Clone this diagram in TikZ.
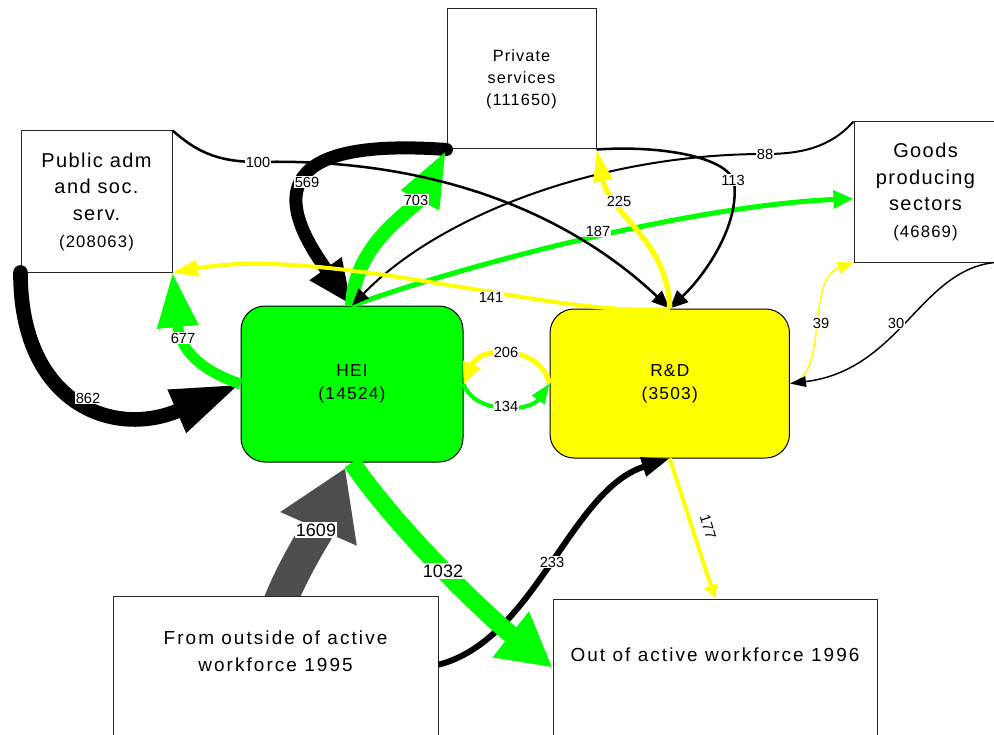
\documentclass[tikz,border=0pt]{standalone}
\usepackage{fontspec}
\setmainfont{Liberation Sans}
\newfontfamily\spfont[LetterSpace=7]{Liberation Sans}
\newfontfamily\wfont[LetterSpace=11]{Liberation Sans}
\usetikzlibrary{arrows.meta}
\definecolor{grn}{RGB}{0,255,0}
\definecolor{ylw}{RGB}{255,255,0}
\definecolor{dgray}{RGB}{77,77,77}
\pgfdeclarelayer{bg}
\pgfsetlayers{bg,main}
\tikzset{
  box/.style={draw=black!85, line width=0.75pt, fill=white, inner sep=0pt, align=center},
  rbox/.style={draw=black, line width=0.75pt, inner sep=0pt, align=center, rounded corners=18pt},
  ahead/.style 2 args={-{Triangle[length=#1,width=#2]}},
  lbl/.style={fill=white, inner sep=0.8pt, font=\fontsize{11}{12}\selectfont},
  blbl/.style={fill=white, inner sep=1pt, font=\fontsize{13.5}{15}\selectfont},
  bigtxt/.style={align=center, inner sep=0pt, font=\wfont\fontsize{14.2}{20}\selectfont},
}
\begin{document}
\begin{tikzpicture}[x=0.75pt,y=-0.75pt]
\useasboundingbox (0,0) rectangle (994,734);
\clip (0,0) rectangle (994,734);

% boxes
\node[box, minimum width=113.25pt, minimum height=105.75pt, font=\spfont\fontsize{15}{20}\selectfont] (pub) at (96.5,201.5)
  {Public adm\\and soc.\\serv.\\{\fontsize{12.5}{17}\selectfont(208063)}};
\node[box, minimum width=111.75pt, minimum height=105pt, font=\spfont\fontsize{12.2}{16.5}\selectfont] (priv) at (521.5,79)
  {Private\\services\\(111650)};
\node[box, minimum width=107.25pt, minimum height=105pt, font=\spfont\fontsize{15}{20}\selectfont] (goods) at (925.5,192)
  {Goods\\producing\\sectors\\{\fontsize{12.5}{17}\selectfont(46869)}};
\node[rbox, fill=grn, minimum width=166.5pt, minimum height=117pt, font=\spfont\fontsize{13}{17}\selectfont] (hei) at (352,384)
  {HEI\\(14524)};
\node[rbox, fill=ylw, minimum width=179.6pt, minimum height=111.75pt, font=\spfont\fontsize{13}{17}\selectfont] (rd) at (669.75,383.5)
  {R\&D\\(3503)};
\node[box, minimum width=243pt, minimum height=120.75pt] (outbox) at (715,679.5) {};
\node[bigtxt] (outtext) at (715,655) {Out of active workforce 1996};

% 1609 (under the source box)
\begin{pgfonlayer}{bg}
\draw[dgray, line width=25pt, ahead={50pt}{59pt}] (273,623) .. controls (284,582) and (318,530) .. ([xshift=-5pt,yshift=-4pt]hei.south);
\end{pgfonlayer}
\node[box, minimum width=243.75pt, minimum height=123pt] (fromout) at (275.5,678) {};
\node[bigtxt] (fromtext) at (275.5,651.5) {From outside of active\\workforce 1995};

% connectors
\draw[black, line width=11pt, line cap=round, ahead={52pt}{32pt}] (pub.south west) .. controls (20,400) and (110,440) .. (hei.west);
\draw[grn, line width=8pt, ahead={41pt}{29pt}] (hei.west) .. controls (200,370) and (180,350) .. (pub.south east);
\draw[black, line width=9.75pt, line cap=round, ahead={34pt}{27pt}] (priv.south west) .. controls (245,135) and (292,222) .. (hei.north);
\draw[grn, line width=10.5pt, ahead={43pt}{29pt}] (hei.north) .. controls (355,240) and (415,210) .. (priv.south west);
\draw[grn, line width=3.75pt, ahead={15pt}{13pt}] (hei.north) .. controls (480,260) and (700,205) .. ([yshift=-5pt]goods.west);
\draw[black, line width=1.5pt, ahead={12.75pt}{10.5pt}] (goods.north west) .. controls (830,148) and (800,154) .. (765,154) .. controls (600,154) and (440,215) .. (hei.north);
\draw[black, line width=1.9pt, ahead={13.5pt}{11pt}] (pub.north east) .. controls (195,150) and (215,162) .. (258,162) .. controls (420,158) and (560,205) .. (rd.north);
\draw[black, line width=1.9pt, ahead={13.5pt}{12pt}] (priv.south east) .. controls (665,145) and (728,158) .. (734,182) .. controls (740,225) and (705,275) .. (rd.north);
\draw[ylw, line width=4pt, ahead={24pt}{13.5pt}] (rd.north) .. controls (668,240) and (610,215) .. (priv.south east);
\draw[ylw, line width=3pt, ahead={19pt}{12pt}] (rd.north) .. controls (560,320) and (330,245) .. (pub.south east);
\draw[ylw, line width=3.75pt, ahead={16pt}{13.5pt}] (rd.west) .. controls (540,345) and (480,345) .. (hei.east);
\draw[grn, line width=3pt, ahead={15pt}{11pt}] (hei.east) .. controls (475,415) and (530,412) .. (rd.west);
\draw[ylw, line width=1.1pt, ahead={12pt}{9pt}] (rd.east) .. controls (830,375) and (805,280) .. (goods.south west);
\draw[black, line width=1.1pt, ahead={12pt}{8pt}] ([xshift=-2pt]goods.south east) .. controls (920,270) and (900,370) .. (rd.east);
\draw[black, line width=4.5pt, ahead={21pt}{14pt}] ([yshift=10pt]fromout.east) .. controls (535,640) and (570,490) .. (rd.south);
\draw[grn, line width=13.5pt, ahead={40pt}{41pt}] (hei.south) .. controls (390,520) and (480,610) .. ([yshift=9pt]outbox.west);
\draw[ylw, line width=3pt, ahead={10pt}{10pt}] (rd.south) -- (outbox.north);

% labels
\node[lbl] (l862) at (88,398) {862};
\node[lbl] (l677) at (183,338) {677};
\node[lbl] (l569) at (307,182) {569};
\node[lbl] (l703) at (416,200) {703};
\node[lbl] (l100) at (258,162) {100};
\node[lbl] (l88) at (765,154) {88};
\node[lbl] (l113) at (733,180) {113};
\node[lbl] (l187) at (598,231) {187};
\node[lbl] (l225) at (619,201) {225};
\node[lbl] (l141) at (491,297) {141};
\node[lbl] (l206) at (506,352) {206};
\node[lbl] (l134) at (506,406) {134};
\node[lbl] (l39) at (821,323) {39};
\node[lbl] (l30) at (896,323) {30};
\node[blbl] (l1609) at (316,530) {1609};
\node[blbl] (l1032) at (443,571) {1032};
\node[lbl] (l233) at (552,562) {233};
\node[lbl, fill=none, rotate=-73] (l177) at (708,527) {177};
\end{tikzpicture}
\end{document}
